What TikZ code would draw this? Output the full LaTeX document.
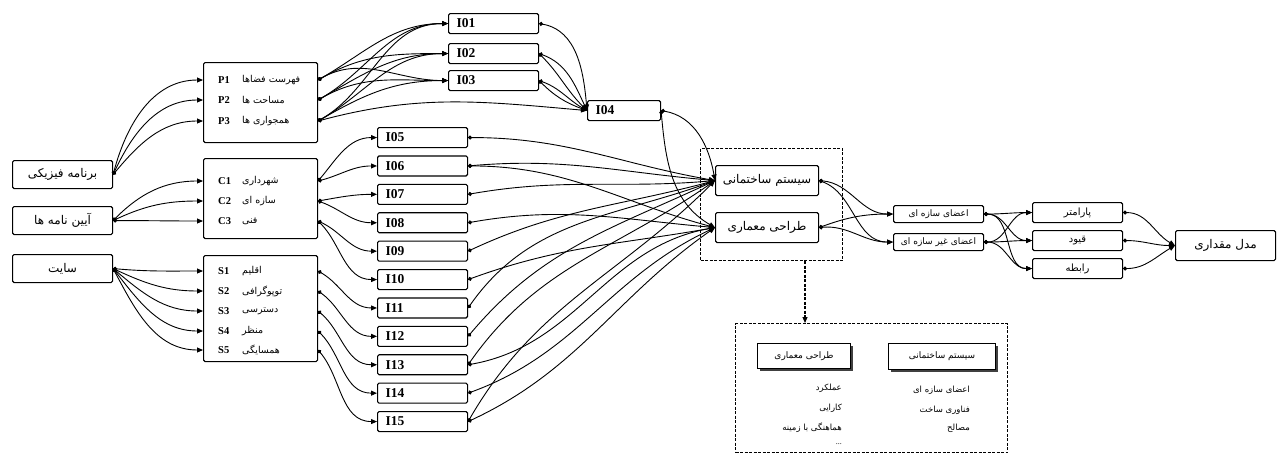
\documentclass[tikz,border=0pt]{standalone}
\usepackage{fontspec}
\setmainfont{Liberation Serif}
\newfontfamily\farsifont[Script=Arabic]{DejaVu Sans}
\TeXXeTstate=1
\usetikzlibrary{arrows.meta,calc,shadows}
\newcommand\fa[1]{{\farsifont\beginR #1\endR}}
\begin{document}
\begin{tikzpicture}[x=1pt,y=-1pt,
  box/.style={draw,line width=1.1pt,rounded corners=1.5pt,inner sep=0pt,anchor=north west,fill=white},
  fabox/.style={box,font=\farsifont\fontsize{12}{12}\selectfont},
  ibox/.style={box,minimum height=20pt,text width=74pt,inner xsep=8pt,align=left,font=\fontsize{13.5}{13.5}\selectfont\bfseries},
  lab/.style={font=\fontsize{10.5}{10.5}\selectfont\bfseries,anchor=west,inner sep=0pt},
  row/.style={font=\farsifont\fontsize{9.5}{9.5}\selectfont,anchor=west,inner sep=0pt},
  item/.style={font=\farsifont\fontsize{8.5}{8.5}\selectfont,anchor=east,inner sep=0pt},
  hbox/.style={draw,line width=1pt,fill=white,inner sep=0pt,anchor=north west,font=\farsifont\fontsize{9}{9}\selectfont,
     drop shadow={shadow xshift=2pt,shadow yshift=-2pt,fill=black!75,opacity=1}},
  link/.style={line width=0.9pt,{Circle[length=4pt]}-{Triangle[length=6pt,width=5pt]}},
  dbox/.style={draw,dash pattern=on 3pt off 1.5pt,line width=1.1pt,anchor=north west,inner sep=0pt},
]
\useasboundingbox (0,0) rectangle (1285,464);

% left input boxes
\node[fabox,minimum width=100pt,minimum height=28pt] (bf) at (12,160) {\fa{برنامه فیزیکی}};
\node[fabox,minimum width=100pt,minimum height=28pt] (ay) at (12,206) {\fa{آیین نامه ها}};
\node[fabox,minimum width=100pt,minimum height=28pt] (site) at (12,254) {\fa{سایت}};

% P box
\node[box,minimum width=114pt,minimum height=80pt] (P) at (203,62) {};
\node[lab] (p1) at (218,80) {P1}; \node[row] (pt1) at (242,80) {\fa{فهرست فضاها}};
\node[lab] (p2) at (218,100) {P2}; \node[row] (pt2) at (242,100) {\fa{مساحت ها}};
\node[lab] (p3) at (218,121) {P3}; \node[row] (pt3) at (242,121) {\fa{همجواری ها}};

% C box
\node[box,minimum width=114pt,minimum height=80pt] (C) at (203,158) {};
\node[lab] (c1) at (218,181) {C1}; \node[row] (ct1) at (242,181) {\fa{شهرداری}};
\node[lab] (c2) at (218,201) {C2}; \node[row] (ct2) at (242,201) {\fa{سازه ای}};
\node[lab] (c3) at (218,221) {C3}; \node[row] (ct3) at (242,221) {\fa{فنی}};

% S box
\node[box,minimum width=114pt,minimum height=106pt] (S) at (203,255) {};
\node[lab] (s1) at (218,271) {S1}; \node[row] (st1) at (242,271) {\fa{اقلیم}};
\node[lab] (s2) at (218,291) {S2}; \node[row] (st2) at (242,291) {\fa{توپوگرافی}};
\node[lab] (s3) at (218,311) {S3}; \node[row] (st3) at (242,311) {\fa{دسترسی}};
\node[lab] (s4) at (218,331) {S4}; \node[row] (st4) at (242,331) {\fa{منظر}};
\node[lab] (s5) at (218,350) {S5}; \node[row] (st5) at (242,350) {\fa{همسایگی}};

% I boxes
\node[ibox] (i1) at (448,13) {I01};
\node[ibox] (i2) at (448,43) {I02};
\node[ibox] (i3) at (448,70) {I03};
\node[ibox,text width=57pt] (i4) at (587,100) {I04};
\foreach \k/\t in {5/I05,6/I06,7/I07,8/I08,9/I09,10/I10,11/I11,12/I12,13/I13,14/I14,15/I15}
  \node[ibox] (i\k) at (377,{127+28.4*(\k-5)}) {\t};

% systems
\node[dbox,minimum width=142pt,minimum height=112pt] (db) at (700,148) {};
\node[fabox,minimum width=103pt,minimum height=30pt] (sys) at (715,165) {\fa{سیستم ساختمانی}};
\node[fabox,minimum width=103pt,minimum height=30pt] (arch) at (715,212) {\fa{طراحی معماری}};

% members
\node[fabox,minimum width=90pt,minimum height=17pt,font=\farsifont\fontsize{9}{9}\selectfont] (m1) at (893,205) {\fa{اعضای سازه ای}};
\node[fabox,minimum width=90pt,minimum height=17pt,font=\farsifont\fontsize{9}{9}\selectfont] (m2) at (893,233) {\fa{اعضای غیر سازه ای}};

% parameter boxes
\node[fabox,minimum width=90pt,minimum height=20pt,font=\farsifont\fontsize{10}{10}\selectfont] (pa) at (1032,202) {\fa{پارامتر}};
\node[fabox,minimum width=90pt,minimum height=20pt,font=\farsifont\fontsize{10}{10}\selectfont] (qu) at (1032,230) {\fa{قیود}};
\node[fabox,minimum width=90pt,minimum height=20pt,font=\farsifont\fontsize{10}{10}\selectfont] (ra) at (1032,258) {\fa{رابطه}};
\node[fabox,minimum width=100pt,minimum height=30pt] (mo) at (1175,230) {\fa{مدل مقداری}};

% detail box
\node[dbox,line width=1.4pt,minimum width=272pt,minimum height=129pt] (det) at (735,323) {};
\coordinate (dx) at (805,0);
\draw[dash pattern=on 3pt off 1.5pt,line width=1.1pt,-{Triangle[length=6pt,width=5pt]}] (db.south -| dx) -- (det.north -| dx);
\node[hbox,minimum width=93pt,minimum height=25pt] (h1) at (757,343) {\fa{طراحی معماری}};
\node[hbox,minimum width=107pt,minimum height=26pt] (h2) at (888,343) {\fa{سیستم ساختمانی}};
\node[item] (a1) at (842,388) {\fa{عملکرد}};
\node[item] (a2) at (842,408) {\fa{کارایی}};
\node[item] (a3) at (842,428) {\fa{هماهنگی با زمینه}};
\node[item,font=\fontsize{8}{8}\selectfont] (a4) at (842,444) {...};
\node[item] (b1) at (970,390) {\fa{اعضای سازه ای}};
\node[item] (b2) at (970,410) {\fa{فناوری ساخت}};
\node[item] (b3) at (970,428) {\fa{مصالح}};

% left fans
\draw[link] (bf.east) to[out=75,in=180] (P.west|-p1);
\draw[link] (bf.east) to[out=65,in=180] (P.west|-p2);
\draw[link] (bf.east) to[out=50,in=180] (P.west|-p3);
\draw[link] (ay.east) to[out=45,in=180] (C.west|-c1);
\draw[link] (ay.east) to[out=25,in=180] (C.west|-c2);
\draw[link] (ay.east) to[out=0,in=180] (C.west|-c3);
\draw[link] (site.east) to[out=-5,in=180] (S.west|-s1);
\draw[link] (site.east) to[out=-25,in=180] (S.west|-s2);
\draw[link] (site.east) to[out=-40,in=180] (S.west|-s3);
\draw[link] (site.east) to[out=-52,in=180] (S.west|-s4);
\draw[link] (site.east) to[out=-62,in=180] (S.west|-s5);

% P -> I01..I04
\foreach \p in {p1,p2,p3}
  \foreach \i in {i1,i2,i3}
    \draw[link] (P.east|-\p) to[out=30,in=180] (\i.west);
\draw[link] (P.east|-p3) to[out=15,in=175] (i4.west);

% I01..I03 -> I04
\draw[link] (i1.east) to[out=-10,in=95] (i4.west);
\draw[link] (i2.east) to[out=-20,in=115] (i4.west);
\draw[link] (i2.east) to[out=-45,in=135] (i4.west);
\draw[link] (i3.east) to[out=-20,in=150] (i4.west);
\draw[link] (i3.east) to[out=-45,in=160] (i4.west);

% C -> I05..I10
\draw[link] (C.east|-c1) to[out=50,in=180] (i5.west);
\draw[link] (C.east|-c1) to[out=15,in=180] (i6.west);
\draw[link] (C.east|-c2) to[out=10,in=180] (i7.west);
\draw[link] (C.east|-c2) to[out=-20,in=180] (i8.west);
\draw[link] (C.east|-c3) to[out=-25,in=180] (i9.west);
\draw[link] (C.east|-c3) to[out=-45,in=180] (i10.west);

% S -> I11..I15
\draw[link] (S.east|-s1) to[out=-30,in=180] (i11.west);
\draw[link] (S.east|-s2) to[out=-35,in=180] (i12.west);
\draw[link] (S.east|-s3) to[out=-40,in=180] (i13.west);
\draw[link] (S.east|-s4) to[out=-45,in=180] (i14.west);
\draw[link] (S.east|-s5) to[out=-50,in=180] (i15.west);

% I04 -> systems
\draw[link] (i4.east) to[out=-10,in=100] (sys.west);
\draw[link] (i4.east) to[out=-85,in=150] (arch.west);

% I05..I15 -> systems
\draw[link] (i5.east) to[out=0,in=170] (sys.west);
\draw[link] (i6.east) to[out=5,in=175] (sys.west);
\draw[link] (i6.east) to[out=0,in=165] (arch.west);
\draw[link] (i7.east) to[out=10,in=185] (sys.west);
\draw[link] (i8.east) to[out=10,in=175] (arch.west);
\draw[link] (i9.east) to[out=25,in=195] (sys.west);
\draw[link] (i10.east) to[out=20,in=190] (arch.west);
\draw[link] (i11.east) to[out=55,in=200] (sys.west);
\draw[link] (i12.east) to[out=50,in=205] (sys.west);
\draw[link] (i13.east) to[out=55,in=215] (sys.west);
\draw[link] (i13.east) to[out=10,in=190] (arch.west);
\draw[link] (i14.east) to[out=20,in=205] (arch.west);
\draw[link] (i15.east) to[out=60,in=225] (sys.west);
\draw[link] (i15.east) to[out=25,in=215] (arch.west);

% systems -> members
\draw[link] (sys.east) to[out=-5,in=180] (m1.west);
\draw[link] (sys.east) to[out=-20,in=180] (m2.west);
\draw[link] (arch.east) to[out=20,in=180] (m1.west);
\draw[link] (arch.east) to[out=5,in=180] (m2.west);

% members -> parameters
\foreach \m in {m1,m2}
  \foreach \t in {pa,qu,ra}
    \draw[link] (\m.east) to[out=0,in=180] (\t.west);

% parameters -> model
\draw[link] (pa.east) to[out=0,in=150] (mo.west);
\draw[link] (qu.east) to[out=0,in=180] (mo.west);
\draw[link] (ra.east) to[out=0,in=210] (mo.west);
\end{tikzpicture}
\end{document}
